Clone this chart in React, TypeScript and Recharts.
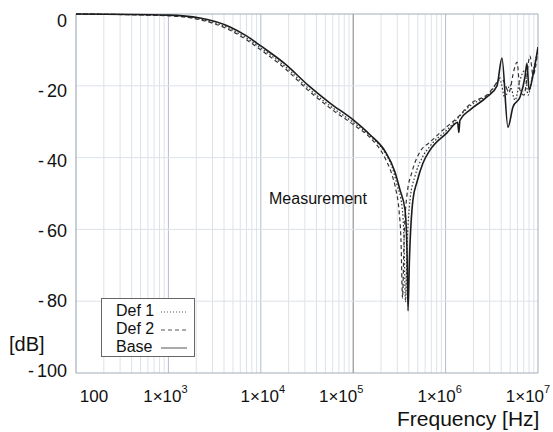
import { LineChart, Line, XAxis, YAxis, ReferenceLine } from "recharts";

// frequency response (Hz, dB)
const BASE_FREQ = [
  100, 1e3, 2200, 4640, 7000, 1e4, 18300, 32400, 56100, 1e5, 153000, 221000,
  283000, 321000, 364000, 382000, 392000, 406000, 443000, 490000, 569000, 678000,
  1.035e6, 1.35e6, 1.39e6, 1.43e6, 1.84e6, 2.8e6, 3.6e6, 4.07e6, 4.73e6, 5.36e6,
  6.39e6, 7.23e6, 7.6e6, 8.0e6, 8.83e6, 1e7,
];
const BASE_DB = [
  0, -0.3, -1.1, -3.6, -6.1, -8.9, -13.9, -19.8, -24.8, -29.5, -33.7, -38.2, -44,
  -49, -54.6, -65.7, -82.7, -68.5, -51.8, -46.8, -41.5, -37.9, -33.1, -30.2, -33,
  -29.6, -26.7, -23.1, -20, -12.3, -31.5, -25.9, -23.1, -17.5, -13.7, -21.2, -17,
  -9.2,
];

const DEF1_FREQ = [
  100, 1e3, 2200, 4640, 7000, 1e4, 18300, 32400, 56100, 1e5, 153000, 221000,
  263000, 298000, 338000, 355000, 368000, 382000, 412000, 467000, 556000, 678000,
  1.035e6, 1.84e6, 3.02e6, 3.88e6, 4.39e6, 4.97e6, 5.64e6, 6.39e6, 7.23e6, 7.8e6,
  8.83e6, 1e7,
];
const DEF1_DB = [
  0, -0.4, -1.4, -4.1, -6.7, -9.5, -14.6, -20.6, -25.6, -30.2, -34, -38.7, -42.6,
  -47.6, -53.8, -63, -80.2, -65.7, -51.8, -45.1, -40.1, -36.8, -32.3, -25.6, -22,
  -18.4, -23.4, -19.8, -24, -18.4, -15.6, -22.6, -16.2, -9.5,
];

const DEF2_FREQ = [
  100, 1e3, 2200, 4640, 7000, 1e4, 18300, 32400, 56100, 1e5, 153000, 221000,
  263000, 290000, 313000, 329000, 342000, 355000, 382000, 433000, 528000, 678000,
  937000, 1.36e6, 1.84e6, 3.02e6, 3.6e6, 3.88e6, 4.18e6, 4.85e6, 5.5e6, 5.93e6,
  6.39e6, 7.05e6, 8.19e6, 8.83e6, 1e7,
];
const DEF2_DB = [
  0, -0.5, -1.6, -4.5, -7.2, -10, -15.2, -21.2, -26.2, -30.8, -34.5, -40.1, -44.8,
  -49, -54.6, -63, -79.1, -63, -50.4, -44, -38.4, -35.7, -32.3, -28.7, -25.1,
  -21.7, -19, -17.8, -18.4, -21.7, -15.6, -13.4, -21.2, -22.6, -11.7, -17, -10,
];

const X_TICKS = [100, 1e3, 1e4, 1e5, 1e6, 1e7];
const Y_TICKS = [0, -20, -40, -60, -80, -100];

const FONT = "'Liberation Sans', Arial, sans-serif";

const COLORS = {
  curve: "#1c1c1c",
  frame: "#a3adbb",
  minor: "#dde2ea",
  major: "#b6bec9",
  mid: "#7d7f83",
};

const toRows = (f: number[], d: number[]) => f.map((v, i) => ({ f: v, db: d[i] }));

// gridline positions: 2..9 inside every decade
const MINOR_GRID: number[] = [];
for (let e = 2; e < 7; e++) {
  for (let m = 2; m <= 9; m++) MINOR_GRID.push(m * Math.pow(10, e));
}

// label nudges so they sit like the original Mathcad layout
const X_NUDGE: Record<number, number> = { 2: 18, 3: -3, 4: 2, 5: -12, 6: -6, 7: -10 };

function XTick(props: any) {
  const { x, y, payload } = props;
  const exp = Math.round(Math.log10(payload.value));
  const cx = x + (X_NUDGE[exp] ?? 0);
  if (exp === 2) {
    return (
      <text x={cx} y={y + 29} textAnchor="middle" fontSize={17} fontFamily={FONT} fill="#111">
        100
      </text>
    );
  }
  return (
    <text x={cx} y={y + 29} textAnchor="middle" fontSize={17} fontFamily={FONT} fill="#111">
      1×10
      <tspan dy={-9} fontSize={11}>
        {exp}
      </tspan>
    </text>
  );
}

function YTick(props: any) {
  const { x, y, payload } = props;
  const v = payload.value as number;
  return (
    <text x={x - 9} y={y + 13 + v * 0.09} textAnchor="end" fontSize={18} fontFamily={FONT} fill="#111">
      {v < 0 ? (
        <>
          <tspan>-</tspan>
          <tspan dx={3}>{Math.abs(v)}</tspan>
        </>
      ) : (
        "0"
      )}
    </text>
  );
}

function LegendRow({ label, dash }: { label: string; dash?: string }) {
  return (
    <div style={{ display: "flex", alignItems: "center", whiteSpace: "nowrap", height: 18 }}>
      <span style={{ display: "inline-block", width: 44 }}>{label}</span>
      <svg width={28} height={10}>
        <line x1={1} y1={6} x2={27} y2={6} stroke="#555" strokeWidth={1} strokeDasharray={dash} />
      </svg>
    </div>
  );
}

export default function App() {
  const base = toRows(BASE_FREQ, BASE_DB);
  const def1 = toRows(DEF1_FREQ, DEF1_DB);
  const def2 = toRows(DEF2_FREQ, DEF2_DB);

  return (
    <div
      style={{
        position: "absolute",
        left: 0,
        top: 0,
        width: 553,
        height: 432,
        background: "#fff",
        fontFamily: FONT,
      }}
    >
      <LineChart width={553} height={432} margin={{ top: 14, right: 15, bottom: 0, left: 0 }}>
        <XAxis
          dataKey="f"
          type="number"
          scale="log"
          domain={[100, 1e7]}
          ticks={X_TICKS}
          allowDataOverflow
          axisLine={false}
          tickLine={false}
          tickSize={0}
          tickMargin={0}
          height={59}
          tick={<XTick />}
          interval={0}
        />
        <YAxis
          type="number"
          domain={[-100, 0]}
          ticks={Y_TICKS}
          axisLine={false}
          tickLine={false}
          tickSize={0}
          tickMargin={0}
          width={76}
          tick={<YTick />}
          interval={0}
        />

        {MINOR_GRID.map((f) => (
          <ReferenceLine key={`m${f}`} x={f} stroke={COLORS.minor} strokeWidth={1} />
        ))}
        {[1e3, 1e4, 1e6].map((f) => (
          <ReferenceLine key={`M${f}`} x={f} stroke={COLORS.major} strokeWidth={1} />
        ))}
        <ReferenceLine x={1e5} stroke={COLORS.mid} strokeWidth={1} />
        {[-20, -40, -60, -80].map((v) => (
          <ReferenceLine key={`h${v}`} y={v} stroke={COLORS.minor} strokeWidth={1} />
        ))}
        {/* plot frame */}
        <ReferenceLine y={0} stroke={COLORS.frame} strokeWidth={1} />
        <ReferenceLine y={-100} stroke={COLORS.frame} strokeWidth={1.2} />
        <ReferenceLine x={100} stroke={COLORS.frame} strokeWidth={1.2} />
        <ReferenceLine x={1e7} stroke={COLORS.frame} strokeWidth={1} />

        <Line
          data={def1}
          dataKey="db"
          type="monotone"
          stroke="#333"
          strokeWidth={1.2}
          strokeDasharray="1.5 2"
          dot={false}
          isAnimationActive={false}
        />
        <Line
          data={def2}
          dataKey="db"
          type="monotone"
          stroke="#333"
          strokeWidth={1.2}
          strokeDasharray="4 3"
          dot={false}
          isAnimationActive={false}
        />
        <Line
          data={base}
          dataKey="db"
          type="monotone"
          stroke={COLORS.curve}
          strokeWidth={1.6}
          dot={false}
          isAnimationActive={false}
        />
      </LineChart>

      {/* annotations */}
      <div style={{ position: "absolute", left: 269, top: 190, fontSize: 16, color: "#111" }}>
        Measurement
      </div>
      <div style={{ position: "absolute", left: 9, top: 333, fontSize: 20, color: "#111" }}>
        [dB]
      </div>
      <div style={{ position: "absolute", left: 397, top: 407, fontSize: 21, color: "#111" }}>
        Frequency [Hz]
      </div>

      {/* legend */}
      <div
        style={{
          position: "absolute",
          left: 101,
          top: 298,
          width: 94,
          height: 59,
          border: "1px solid #666",
          background: "#fff",
          fontSize: 16,
          color: "#111",
          lineHeight: "18px",
          padding: "3px 0 0 14px",
          boxSizing: "border-box",
        }}
      >
        <LegendRow label="Def 1" dash="1 2" />
        <LegendRow label="Def 2" dash="4 3" />
        <LegendRow label="Base" />
      </div>
    </div>
  );
}
